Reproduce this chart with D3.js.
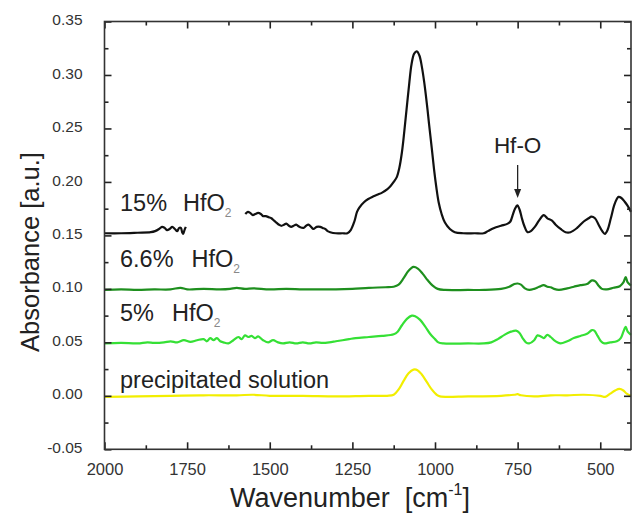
<!DOCTYPE html>
<html>
<head>
<meta charset="utf-8">
<script src="https://cdn.jsdelivr.net/npm/d3@7"></script>
<style>
  html, body { margin: 0; padding: 0; background: #fff; }
  svg { display: block; font-family: "Liberation Sans", Arial, Helvetica, sans-serif; }
</style>
</head>
<body>
<svg id="chart" width="632" height="516"></svg>
<script>
// ---------- data (wavenumber [cm-1], absorbance [a.u.]) ----------
const series15 = [
  [2000,0.152],[1950,0.152],[1900,0.1525],[1860,0.153],[1847,0.154],[1835,0.156],[1826,0.158],[1818,0.157],
  [1811,0.155],[1803,0.156],[1795,0.158],[1787,0.156],[1780,0.154],[1774,0.157],[1769,0.157],[1765,0.153],
  [1762,0.1515],[1758,0.155],[1754,0.158],[1752,null],
  [1574,0.170],[1566,0.172],[1559,0.171],[1551,0.169],[1544,0.170],[1535,0.171],[1527,0.170],[1520,0.168],
  [1512,0.168],[1503,0.167],[1495,0.166],[1488,0.164],[1480,0.162],[1472,0.160],[1465,0.159],[1457,0.160],
  [1450,0.161],[1442,0.159],[1435,0.158],[1428,0.159],[1420,0.160],[1410,0.158],[1398,0.157],[1390,0.159],
  [1383,0.160],[1375,0.158],[1368,0.156],[1358,0.158],[1347,0.158],[1340,0.157],[1332,0.156],[1325,0.154],
  [1317,0.153],[1300,0.152],[1280,0.152],[1265,0.152],[1255,0.155],[1244,0.163],[1236,0.172],[1229,0.176],
  [1215,0.181],[1202,0.184],[1190,0.186],[1175,0.188],[1160,0.190],[1145,0.193],[1135,0.196],[1125,0.200],
  [1115,0.205],[1108,0.213],[1100,0.228],[1093,0.247],[1086,0.268],[1078,0.292],[1071,0.310],[1063,0.320],
  [1055,0.322],[1047,0.318],[1040,0.308],[1033,0.294],[1025,0.274],[1018,0.254],[1010,0.232],[1003,0.212],
  [996,0.195],[989,0.181],[980,0.170],[970,0.162],[955,0.156],[940,0.153],[915,0.152],
  [880,0.152],[853,0.152],[840,0.154],[821,0.157],[800,0.159],[780,0.161],[772,0.163],[765,0.169],
  [758,0.175],[751,0.178],[744,0.174],[738,0.167],[730,0.159],[720,0.153],[710,0.154],[698,0.158],
  [685,0.164],[671,0.169],[660,0.166],[647,0.164],[635,0.160],[620,0.156],[605,0.153],[590,0.153],
  [570,0.157],[550,0.163],[535,0.166],[527,0.1675],[516,0.166],[505,0.160],[494,0.154],[486,0.1515],
  [478,0.155],[468,0.166],[458,0.178],[450,0.184],[445,0.186],[436,0.185],[426,0.1815],[418,0.178],[407,0.172]
];
const series66 = [
  [2000,0.099],[1950,0.0995],[1900,0.099],[1850,0.0995],[1800,0.0995],[1770,0.101],[1750,0.0995],[1700,0.100],
  [1650,0.0995],[1620,0.100],[1600,0.101],[1575,0.100],[1550,0.1005],[1500,0.0995],[1450,0.100],[1400,0.0995],
  [1350,0.0995],[1300,0.0995],[1250,0.100],[1200,0.101],[1150,0.1015],[1125,0.102],[1110,0.104],[1095,0.110],
  [1080,0.117],[1065,0.1205],[1052,0.119],[1037,0.114],[1022,0.108],[1007,0.103],[992,0.100],[970,0.099],
  [900,0.099],[850,0.099],[800,0.100],[775,0.102],[760,0.1045],[750,0.105],[740,0.104],[728,0.1005],
  [715,0.099],[700,0.100],[685,0.102],[671,0.1035],[660,0.102],[650,0.1015],[640,0.100],[625,0.099],
  [600,0.1005],[580,0.102],[560,0.1035],[540,0.1045],[525,0.108],[515,0.107],[505,0.103],[495,0.100],
  [480,0.0995],[460,0.101],[441,0.1025],[430,0.106],[423,0.111],[417,0.106],[407,0.103]
];
const series5 = [
  [2000,0.049],[1950,0.0495],[1900,0.049],[1870,0.050],[1850,0.0495],[1820,0.050],[1800,0.051],[1780,0.050],
  [1760,0.052],[1740,0.0505],[1720,0.052],[1700,0.053],[1690,0.051],[1680,0.054],[1670,0.052],[1660,0.054],
  [1650,0.051],[1640,0.050],[1625,0.049],[1610,0.052],[1595,0.055],[1585,0.053],[1575,0.0565],[1565,0.055],
  [1555,0.056],[1545,0.054],[1535,0.0555],[1520,0.052],[1505,0.050],[1490,0.052],[1475,0.050],[1460,0.049],
  [1440,0.050],[1420,0.049],[1400,0.050],[1380,0.049],[1360,0.050],[1340,0.0495],[1320,0.050],[1300,0.051],
  [1280,0.052],[1260,0.053],[1240,0.054],[1200,0.055],[1160,0.056],[1125,0.0575],[1113,0.060],[1100,0.066],
  [1085,0.072],[1070,0.075],[1060,0.0745],[1045,0.071],[1030,0.065],[1015,0.058],[1000,0.053],[990,0.050],
  [975,0.049],[900,0.049],[853,0.049],[830,0.050],[810,0.053],[790,0.057],[770,0.060],[755,0.061],
  [745,0.059],[735,0.054],[725,0.050],[715,0.049],[700,0.052],[690,0.0565],[680,0.0555],[671,0.054],
  [660,0.057],[650,0.055],[640,0.052],[630,0.050],[620,0.049],[600,0.051],[580,0.054],[560,0.056],
  [540,0.058],[525,0.0615],[518,0.061],[508,0.056],[498,0.051],[488,0.049],[470,0.050],[450,0.051],
  [438,0.054],[430,0.060],[423,0.0645],[417,0.060],[407,0.057]
];
const seriesSol = [
  [2000,-0.001],[1900,-0.0005],[1800,0.000],[1700,0.0005],[1600,0.0005],[1550,0.001],[1500,0.000],[1400,0.000],
  [1300,-0.0005],[1200,0.000],[1145,0.000],[1125,0.001],[1110,0.006],[1095,0.014],[1080,0.021],[1065,0.0245],
  [1053,0.024],[1040,0.020],[1025,0.013],[1010,0.006],[995,0.001],[985,-0.0005],[900,-0.0005],[800,0.000],
  [760,0.001],[750,0.0015],[740,0.0005],[700,-0.0005],[650,0.0005],[600,0.0005],[550,0.001],[500,0.000],
  [485,-0.001],[470,0.002],[455,0.005],[442,0.0065],[430,0.005],[420,0.002],[407,0.000]
];
const seriesNames = ["precipitated solution", "5%", "6.6%", "15%"];
const seriesColors = ["#f2ee00", "#35e035", "#1e8f1e", "#111111"];
const xTickLabels = [2000, 1750, 1500, 1250, 1000, 750, 500];
const xMinorTicks = [1875, 1625, 1375, 1125, 875, 625];
const yTickLabels = [-0.05, 0.00, 0.05, 0.10, 0.15, 0.20, 0.25, 0.30, 0.35];
const yMinorTicks = [-0.025, 0.025, 0.075, 0.125, 0.175, 0.225, 0.275, 0.325];
const annotationText = "Hf-O";
const annotationWavenumber = 750;

// ---------- layout ----------
const svg = d3.select("#chart");
const L = 104.5, R = 631, T = 21.5, B = 449.3;
const x = d3.scaleLinear().domain([2000, 407]).range([L, R]);
const y = d3.scaleLinear().domain([-0.05, 0.35]).range([B, T]);

// curves
const line = d3.line()
  .defined(d => d[1] !== null)
  .x(d => x(d[0])).y(d => y(d[1]))
  .curve(d3.curveCatmullRom.alpha(0.5));

const allSeries = [seriesSol, series5, series66, series15];
svg.append("g").selectAll("path").data(allSeries).join("path")
  .attr("d", line)
  .attr("fill", "none")
  .attr("stroke", (d, i) => seriesColors[i])
  .attr("stroke-width", 2.2)
  .attr("stroke-linejoin", "round");

// ---------- axes ----------
const tickColor = "#222";
function styleAxis(g) {
  g.selectAll(".domain").remove();
  g.selectAll(".tick line").attr("stroke", tickColor).attr("stroke-width", 1.6);
}
const fmtX = d3.format("d");
const fmtY = v => d3.format(".2f")(v).replace("\u2212", "-");

// bottom
svg.append("g").attr("transform", `translate(0,${B})`)
  .call(d3.axisBottom(x).tickValues(xTickLabels).tickSize(-7).tickPadding(14).tickFormat(fmtX))
  .call(styleAxis)
  .call(g => g.selectAll("text").attr("font-size", 16.5).attr("fill", "#333").attr("font-family", "Liberation Sans, Arial, sans-serif"));
svg.append("g").attr("transform", `translate(0,${B})`)
  .call(d3.axisBottom(x).tickValues(xMinorTicks).tickSize(-4).tickFormat(""))
  .call(styleAxis);
// top
svg.append("g").attr("transform", `translate(0,${T})`)
  .call(d3.axisTop(x).tickValues(xTickLabels).tickSize(-7).tickFormat(""))
  .call(styleAxis);
svg.append("g").attr("transform", `translate(0,${T})`)
  .call(d3.axisTop(x).tickValues(xMinorTicks).tickSize(-4).tickFormat(""))
  .call(styleAxis);
// left
svg.append("g").attr("transform", `translate(${L},0)`)
  .call(d3.axisLeft(y).tickValues(yTickLabels).tickSize(-7).tickPadding(22).tickFormat(fmtY))
  .call(styleAxis)
  .call(g => g.selectAll("text").attr("font-size", 15.5).attr("fill", "#333").attr("dy", "0.2em").attr("font-family", "Liberation Sans, Arial, sans-serif"));
svg.append("g").attr("transform", `translate(${L},0)`)
  .call(d3.axisLeft(y).tickValues(yMinorTicks).tickSize(-4).tickFormat(""))
  .call(styleAxis);
// right
svg.append("g").attr("transform", `translate(${R},0)`)
  .call(d3.axisRight(y).tickValues(yTickLabels).tickSize(-7).tickFormat(""))
  .call(styleAxis);
svg.append("g").attr("transform", `translate(${R},0)`)
  .call(d3.axisRight(y).tickValues(yMinorTicks).tickSize(-4).tickFormat(""))
  .call(styleAxis);

// frame
svg.append("rect")
  .attr("x", L).attr("y", T).attr("width", R - L).attr("height", B - T)
  .attr("fill", "none").attr("stroke", "#333").attr("stroke-width", 1.6);

// ---------- axis titles ----------
const xt = svg.append("text")
  .attr("x", 350).attr("y", 507)
  .attr("text-anchor", "middle").attr("font-size", 27).attr("fill", "#222")
  .style("white-space", "pre");
xt.append("tspan").text("Wavenumber  [cm");
xt.append("tspan").text("-1").attr("font-size", 16).attr("dy", -12);
xt.append("tspan").text("]").attr("dy", 12);

svg.append("text")
  .attr("transform", `translate(39,252) rotate(-90)`)
  .attr("text-anchor", "middle").attr("font-size", 25.5).attr("fill", "#222")
  .text("Absorbance [a.u.]");

// ---------- series labels ----------
const labelSpecs = [
  { name: seriesNames[3], formula: true, v: 0.152, off: 22, gap: 16 },
  { name: seriesNames[2], formula: true, v: 0.100, off: 22, gap: 18 },
  { name: seriesNames[1], formula: true, v: 0.049, off: 22, gap: 18 },
  { name: seriesNames[0], formula: false, v: 0.000, off: 8, gap: 0 }
];
labelSpecs.forEach(s => {
  const t = svg.append("text")
    .attr("x", 120).attr("y", y(s.v) - s.off)
    .attr("font-size", 23.5).attr("fill", "#222");
  t.append("tspan").text(s.name);
  if (s.formula) {
    t.append("tspan").attr("dx", s.gap).text("HfO");
    t.append("tspan").attr("dy", 6).attr("font-size", 12).attr("fill", "#888").text("2");
  }
});

// ---------- Hf-O annotation ----------
const ax = x(annotationWavenumber);
svg.append("text")
  .attr("x", ax).attr("y", 152.5)
  .attr("text-anchor", "middle").attr("font-size", 22.5).attr("fill", "#222")
  .text(annotationText);
svg.append("line")
  .attr("x1", ax).attr("x2", ax).attr("y1", 165).attr("y2", 190)
  .attr("stroke", "#222").attr("stroke-width", 1.3);
svg.append("path")
  .attr("d", d3.line()([[ax - 3.5, 189], [ax + 3.5, 189], [ax, 198]]))
  .attr("fill", "#222");
</script>
</body>
</html>
